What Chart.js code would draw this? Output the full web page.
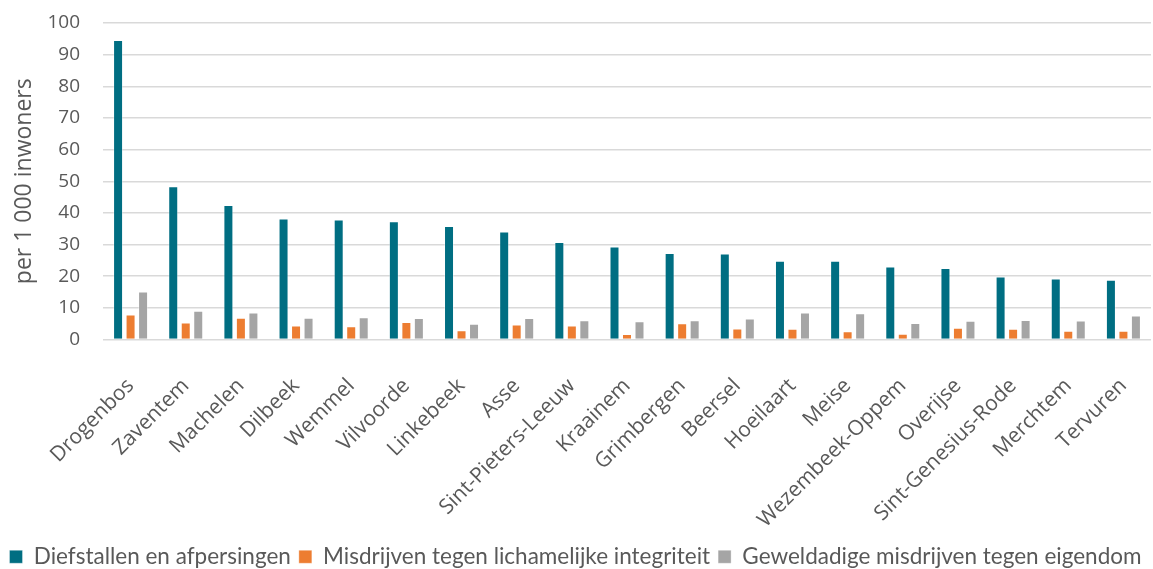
<!DOCTYPE html>
<html>
<head>
<meta charset="utf-8">
<script src="https://cdn.jsdelivr.net/npm/chart.js@4"></script>
<style>
  html, body { margin: 0; padding: 0; background: #fff; }
  #wrap { width: 1153px; height: 569px; }
</style>
</head>
<body>
<div id="wrap"><canvas id="chart"></canvas></div>
<script>
const municipalities = ["Drogenbos", "Zaventem", "Machelen", "Dilbeek", "Wemmel", "Vilvoorde", "Linkebeek", "Asse",
  "Sint-Pieters-Leeuw", "Kraainem", "Grimbergen", "Beersel", "Hoeilaart", "Meise", "Wezembeek-Oppem", "Overijse",
  "Sint-Genesius-Rode", "Merchtem", "Tervuren"];
const theft = [94.6, 48.4, 42.5, 38.2, 37.9, 37.4, 35.9, 34.1, 30.8, 29.4, 27.3, 27.2, 24.9, 24.9, 23.1, 22.6, 19.9, 19.3, 18.9];
const bodily = [7.9, 5.4, 6.9, 4.4, 4.2, 5.5, 2.9, 4.7, 4.4, 1.7, 5.1, 3.5, 3.4, 2.6, 1.8, 3.7, 3.4, 2.8, 2.8];
const property = [15.2, 9.1, 8.5, 6.9, 7.0, 6.8, 5.0, 6.8, 6.1, 5.8, 6.1, 6.6, 8.5, 8.3, 5.2, 5.9, 6.2, 6.0, 7.6];
const seriesNames = ["Diefstallen en afpersingen", "Misdrijven tegen lichamelijke integriteit", "Geweldadige misdrijven tegen eigendom"];

const TEXT = "#595959";
const FONT = "'Open Sans', sans-serif";
const LEGEND_FONT = "Lato, sans-serif";

function barSeries(label, data, color) {
  return {
    label,
    data,
    backgroundColor: color,
    borderColor: "rgba(255,255,255,0.35)",
    borderWidth: 1,
    categoryPercentage: 0.68,
    barPercentage: 0.8
  };
}

new Chart(document.getElementById("chart"), {
  type: "bar",
  data: {
    labels: municipalities,
    datasets: [
      barSeries(seriesNames[0], theft, "#006e82"),
      barSeries(seriesNames[1], bodily, "#ed7d31"),
      barSeries(seriesNames[2], property, "#a5a5a5")
    ]
  },
  options: {
    responsive: true,
    maintainAspectRatio: false,
    animation: false,
    layout: { padding: { left: 0, right: 2, top: 1, bottom: -9 } },
    plugins: {
      legend: {
        position: "bottom",
        labels: { boxWidth: 13, boxHeight: 13, padding: 8, color: TEXT, font: { family: LEGEND_FONT, size: 22.5 } }
      },
      tooltip: { enabled: false }
    },
    scales: {
      x: {
        grid: { display: false },
        border: { display: false },
        // fixed axis band so the plot bottom sits where the original has it
        afterFit: (scale) => { scale.height = 198; scale.paddingLeft = 0; scale.paddingRight = 0; },
        ticks: { color: TEXT, minRotation: 45, maxRotation: 45, padding: 26, font: { family: FONT, size: 21 } }
      },
      y: {
        min: 0,
        max: 100,
        grid: { color: "#d9d9d9", lineWidth: 1.5, drawTicks: false },
        border: { display: false },
        afterFit: (scale) => { scale.width = 103; scale.paddingTop = 23; },
        ticks: { stepSize: 10, autoSkip: false, color: TEXT, padding: 23, font: { family: FONT, size: 19 } },
        title: { display: true, text: "per 1 000 inwoners", color: TEXT, padding: { top: 11, bottom: 0 }, font: { family: FONT, size: 23 } }
      }
    }
  }
});
</script>
</body>
</html>
